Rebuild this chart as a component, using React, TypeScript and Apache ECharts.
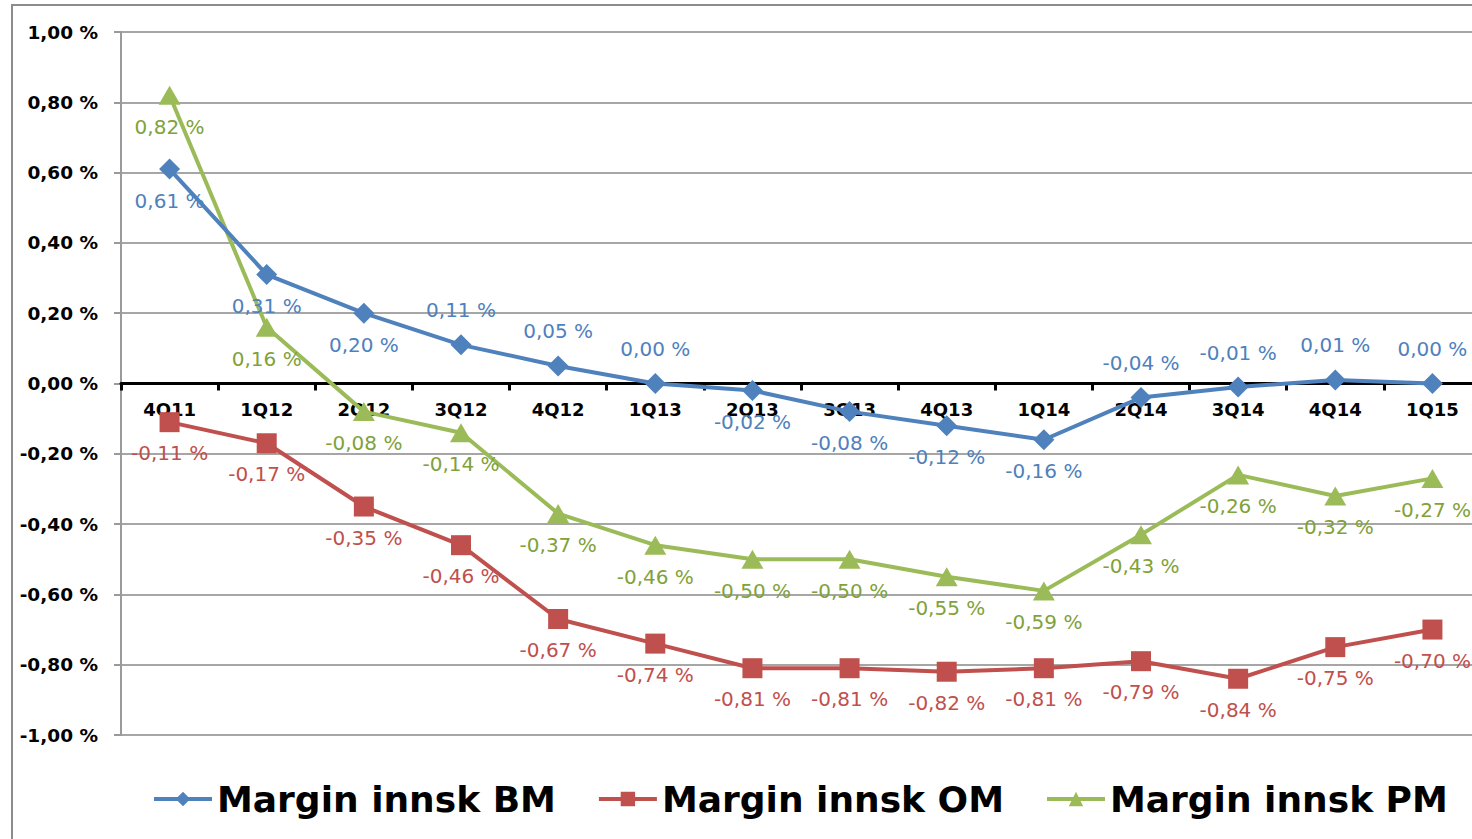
import React, { useEffect, useRef } from "react";
import * as echarts from "echarts";

const categories = ["4Q11", "1Q12", "2Q12", "3Q12", "4Q12", "1Q13", "2Q13", "3Q13", "4Q13", "1Q14", "2Q14", "3Q14", "4Q14", "1Q15"];
const bmValues = [0.61, 0.31, 0.2, 0.11, 0.05, 0.0, -0.02, -0.08, -0.12, -0.16, -0.04, -0.01, 0.01, 0.0];
const omValues = [-0.11, -0.17, -0.35, -0.46, -0.67, -0.74, -0.81, -0.81, -0.82, -0.81, -0.79, -0.84, -0.75, -0.7];
const pmValues = [0.82, 0.16, -0.08, -0.14, -0.37, -0.46, -0.5, -0.5, -0.55, -0.59, -0.43, -0.26, -0.32, -0.27];
const bmLabelAbove = [false, false, false, true, true, true, false, false, false, false, true, true, true, true];
const seriesNames = ["Margin innsk BM", "Margin innsk OM", "Margin innsk PM"];

const FONT = "DejaVu Sans";
const fmt = (v: number) => {
  const s = (Math.abs(v) < 1e-9 ? 0 : v).toFixed(2).replace(".", ",");
  return s + " %";
};

export default function App() {
  const ref = useRef<HTMLDivElement>(null);
  useEffect(() => {
    if (!ref.current) return;
    const chart = echarts.init(ref.current, undefined, { renderer: "svg" });
    const BLUE = "#4F81BD";
    const RED = "#C0504D";
    const GREEN = "#9BBB59";
    const gridTop = 32;
    const gridHeight = 703;
    const labelBase = { show: true, fontFamily: FONT, fontSize: 20, formatter: (p: any) => fmt(p.value) };
    chart.setOption({
      animation: false,
      backgroundColor: "#fff",
      graphic: [
        {
          type: "rect",
          shape: { x: 12, y: 5, width: 1600, height: 1000 },
          style: { fill: "none", stroke: "#8c8c8c", lineWidth: 2 },
          silent: true,
          z: -1,
        },
      ],
      grid: { left: 121, right: 0, top: gridTop, height: gridHeight, containLabel: false },
      legend: {
        left: 147,
        top: 776,
        itemGap: 41,
        itemWidth: 58,
        itemHeight: 18,
        lineStyle: { width: 4 },
        textStyle: { fontFamily: FONT, fontSize: 36, fontWeight: "bold", color: "#000" },
        data: seriesNames,
      },
      xAxis: {
        type: "category",
        data: categories,
        boundaryGap: true,
        position: "bottom",
        offset: -gridHeight / 2,
        axisLine: { onZero: false, lineStyle: { color: "#000", width: 3 } },
        axisTick: { show: true, length: 7, lineStyle: { color: "#000", width: 3 } },
        axisLabel: { margin: 17, fontFamily: FONT, fontSize: 18, fontWeight: "bold", color: "#000" },
        splitLine: { show: false },
        z: 2,
      },
      yAxis: {
        type: "value",
        min: -1,
        max: 1,
        interval: 0.2,
        axisLine: { show: true, lineStyle: { color: "#9a9a9a", width: 2 } },
        axisTick: { show: true, length: 7, lineStyle: { color: "#9a9a9a", width: 2 } },
        axisLabel: {
          margin: 23,
          fontFamily: FONT,
          fontSize: 18.5,
          fontWeight: "bold",
          color: "#000",
          formatter: (v: number) => fmt(v),
        },
        splitLine: { show: true, lineStyle: { color: "#a6a6a6", width: 2 } },
      },
      series: [
        {
          name: seriesNames[2],
          type: "line",
          data: pmValues,
          symbol: "triangle",
          symbolSize: [22, 19],
          lineStyle: { color: GREEN, width: 4 },
          itemStyle: { color: GREEN },
          label: { ...labelBase, position: "bottom", distance: 12, color: "#7FA23A" },
          z: 3,
        },
        {
          name: seriesNames[1],
          type: "line",
          data: omValues,
          symbol: "rect",
          symbolSize: 20,
          lineStyle: { color: RED, width: 4 },
          itemStyle: { color: RED },
          label: { ...labelBase, position: "bottom", distance: 11, color: RED },
          z: 4,
        },
        {
          name: seriesNames[0],
          type: "line",
          data: bmValues.map((v, i) => ({
            value: v,
            label: { position: bmLabelAbove[i] ? "top" : "bottom", distance: bmLabelAbove[i] ? 14 : 11 },
          })),
          symbol: "diamond",
          symbolSize: 21,
          lineStyle: { color: BLUE, width: 4 },
          itemStyle: { color: BLUE },
          label: { ...labelBase, color: BLUE },
          z: 5,
        },
      ],
    });
    return () => chart.dispose();
  }, []);
  return (
    <div style={{ position: "fixed", left: 0, top: 0, width: 1472, height: 839, overflow: "hidden", background: "#fff" }}>
      <div ref={ref} style={{ width: 1481, height: 839 }} />
    </div>
  );
}
